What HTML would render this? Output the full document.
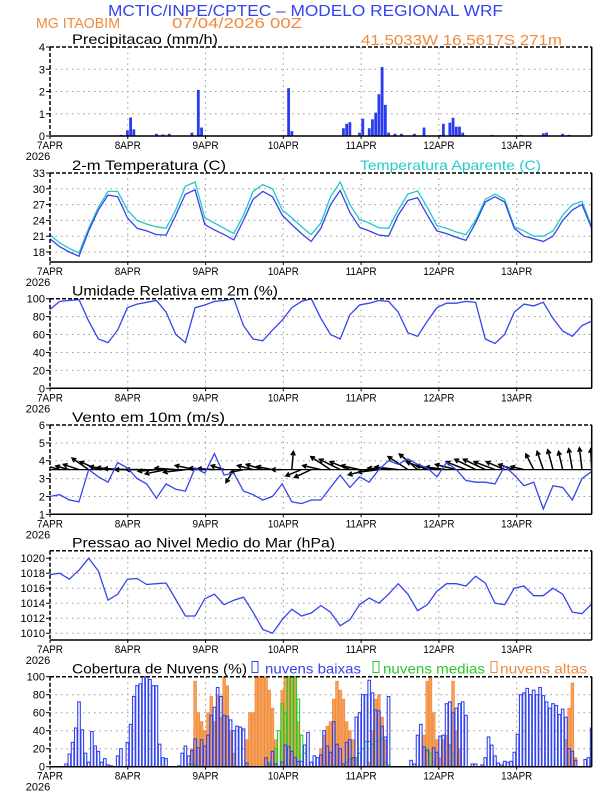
<!DOCTYPE html>
<html><head><meta charset="utf-8"><style>
html,body{margin:0;padding:0;background:#fff;}
svg{display:block;font-family:"Liberation Sans",sans-serif;}
</style></head><body>
<svg id="chart" width="612" height="792" viewBox="0 0 612 792" xmlns="http://www.w3.org/2000/svg">
<text x="108" y="16" font-size="16" fill="#3344ee" textLength="395" lengthAdjust="spacingAndGlyphs">MCTIC/INPE/CPTEC – MODELO REGIONAL WRF</text>
<text x="36" y="28" font-size="15" fill="#f08a3c" textLength="84" lengthAdjust="spacingAndGlyphs">MG ITAOBIM</text>
<text x="172" y="28" font-size="15" fill="#f08a3c" textLength="130" lengthAdjust="spacingAndGlyphs">07/04/2026 00Z</text>
<text x="361" y="45" font-size="15" fill="#f08a3c" textLength="201" lengthAdjust="spacingAndGlyphs">41.5033W 16.5617S 271m</text>
<g id="panels"></g>
</svg>
<script>
// ===== DATA =====
const dayLabels = ["7APR","8APR","9APR","10APR","11APR","12APR","13APR"];
const precipHours = [22,24,25,26,28,30,33,35,37,44,46,47,74,75,91,92,93,96,97,99,100,101,102,103,104,105,107,109,113,116,121,122,124,125,126,127,128,137,146,153,154,159,161];
const precipValues = [0.05,0.25,0.83,0.3,0.02,0.02,0.1,0.07,0.1,0.15,2.07,0.38,2.15,0.22,0.35,0.55,0.62,0.15,0.78,0.35,0.75,1.05,1.88,3.1,1.4,0.15,0.1,0.1,0.1,0.38,0.05,0.55,0.6,0.82,0.42,0.42,0.15,0.05,0.05,0.12,0.15,0.1,0.05];
const tempValues = [20.5,19,18,17.2,22,26,28.8,28.5,24.5,22.5,22,21.3,21.2,25,29,29.8,23.2,22.2,21.3,20.3,24,28,29.5,28.5,25,23.2,21.5,20,22.5,27,29.7,25.5,22.7,22,21.2,21,25,27.8,28.3,25,22,21.5,20.8,20.2,23.5,27.5,28.5,27.5,22.5,21,20.5,20,21,24,26,27,22.5];
const apparentValues = [21.3,19.7,18.7,17.8,22.5,26.5,29.5,29.5,26,24,23.3,22.8,22.5,26,30.5,31.3,24.5,23.5,22.5,21.5,25,29.5,30.8,30,26,24.5,22.8,21.3,23.5,28.5,31.3,27,24.2,23.5,22.6,22.5,26,29,29.6,26.5,23,22.5,21.8,21.3,24,28,29,28,22.8,22,21,21,22,25,27,27.6,22.8];
const rhValues = [88,97,98,99,75,55,51,65,90,94,96,98,85,60,51,90,93,97,98,100,70,55,53,65,76,90,97,100,78,60,55,82,93,95,98,97,85,62,58,75,90,95,95,97,96,55,50,60,85,94,92,96,78,64,58,70,75];
const windSpeed = [2.0,2.1,1.8,1.7,3.5,3.1,2.8,3.9,3.6,3.0,2.7,1.9,2.7,2.4,2.3,3.6,3.3,4.4,3.2,3.3,2.3,2.1,1.8,2.0,2.7,1.7,1.6,1.8,1.8,2.5,3.2,2.5,3.1,2.8,3.5,4.0,3.8,4.1,3.8,3.6,3.1,3.9,3.5,2.9,2.8,2.8,2.7,3.7,3.2,2.6,2.8,1.3,2.6,2.5,1.8,3.0,3.4];
const windU = [-2.5,-2.8,-2.6,-3,-3.2,-3.5,-3.5,-4,-4.5,-4.2,-4,-3.5,-4,-4,-4.2,-3.8,-3,-3.2,-2.5,-1.5,-2.5,-3,-3.2,-3,-2,0.3,-3,-3.2,-3.5,-3.8,-4,-3.8,-3.5,-4,-4,-4,-4.5,-3.8,-3.5,-4,-4,-4,-4,-3.8,-4,-4.2,-4,-3.5,-3,-2.5,-1.5,-1.2,-1,-0.8,-0.7,-0.5,-0.2];
const windV = [0.6,0.8,0.7,1,2.2,1.5,0.6,0.4,0.2,0,0,-0.3,-0.8,0.3,-0.5,0.8,0.3,0.2,0.8,-2.5,-0.5,0.8,1,0.6,0,3.5,-1.2,-1.5,0.8,2.5,2,1.5,0.8,-1,-0.5,0.3,0.5,2.5,3,1.5,0.8,0.5,1,1.5,2,2,1.5,1.5,1,0.6,3,3.5,3.8,3.5,4,4.2,4];
const pressureValues = [1017.8,1018,1017.2,1018.4,1020,1018.3,1014.4,1015.2,1017.2,1017.3,1016.5,1016.6,1016.7,1014.5,1012.3,1012.3,1014.6,1015.2,1013.8,1014.4,1014.8,1012.8,1010.5,1010,1011.8,1013.2,1012.3,1012.7,1013.7,1012.8,1011,1011.8,1013.8,1014.7,1014,1015.2,1016.6,1015.2,1013,1013.8,1015.6,1016.6,1016.6,1016.3,1017.6,1016.7,1014,1013.8,1016,1016.3,1015,1015,1016,1015.2,1012.8,1012.6,1013.9];
const lowCloud = [0,0,0,0,0,
3,14,27,43,72,41,15,5,39,23,17,5,9,2,1,0,
12,20,0,27,47,78,90,92,100,100,97,90,90,25,10,9,0,0,0,1,
15,23,12,18,31,21,30,23,35,57,66,88,78,57,56,52,40,45,44,42,
4,0,0,0,0,0,10,3,17,3,0,5,24,22,17,10,6,6,24,38,
5,12,10,13,40,23,16,50,25,20,3,27,30,10,55,60,80,80,96,82,
63,62,45,33,78,0,0,0,0,0,0,7,3,35,47,22,18,0,21,16,
34,35,70,72,60,65,70,72,57,0,3,3,0,2,10,33,24,12,4,2,
6,5,6,16,36,80,82,87,80,85,80,88,79,72,65,70,68,58,64,55,
20,17,7,0,0,8,10,43];
const midHours = [43,44,45,68,70,71,72,73,74,75,76,77,78,79,92,93,94,95,96,97,98,99,100,101,102,103,104,105,117,118,119,124,125];
const midValues = [3,3,3,5,20,40,70,60,100,100,100,75,35,15,5,8,10,10,15,20,28,28,25,28,30,32,5,2,20,15,5,22,15];
const highHours = [44,45,46,47,48,49,50,51,52,53,54,55,56,57,61,62,63,64,65,66,67,68,69,70,72,73,74,75,76,77,84,85,86,87,88,89,90,91,92,93,94,95,99,100,101,102,103,104,116,117,118,119,120,121,122,123,124,125,126,127,160,161,162,163];
const highValues = [20,95,60,50,40,60,78,50,80,55,100,90,40,15,30,60,60,100,100,100,100,85,65,30,85,100,100,100,100,50,20,35,45,50,75,95,85,75,50,40,30,10,5,40,75,80,55,30,35,95,100,60,30,10,30,35,25,95,40,20,30,65,93,10];

// ===== LAYOUT =====
const L = 50, R = 591.7, DAY = 77.78, HPX = (R - L) / 168;
const NS = "http://www.w3.org/2000/svg";
const root = document.getElementById('panels');
function mk(tag, attrs, parent) {
  const e = document.createElementNS(NS, tag);
  for (const k in attrs) e.setAttribute(k, attrs[k]);
  (parent || root).appendChild(e);
  return e;
}
function xH(h) { return L + h * HPX; }
function yScale(p) { return v => p.bot - (v - p.min) / (p.max - p.min) * (p.bot - p.top); }

const panels = {
  precip: {top:47, bot:136, min:0, max:4, ticks:[0,1,2,3,4]},
  temp: {top:173, bot:262, min:16.1, max:33, ticks:[18,21,24,27,30,33]},
  rh: {top:298.7, bot:388.3, min:0, max:100, ticks:[0,20,40,60,80,100]},
  wind: {top:425, bot:514.3, min:1, max:6, ticks:[1,2,3,4,5,6]},
  pres: {top:550.7, bot:640, min:1009.1, max:1021, ticks:[1010,1012,1014,1016,1018,1020]},
  cloud: {top:676.7, bot:766.7, min:0, max:100, ticks:[0,20,40,60,80,100]}
};

function drawFrame(key, title, titleW) {
  const p = panels[key];
  const g = mk('g', {});
  
  
  const y = yScale(p);
  for (let d = 1; d < 7; d++) {
    const gx = L + d * DAY;
    const gl = mk('line', {x1:gx, x2:gx, y1:p.top, y2:p.bot, stroke:'#999', 'stroke-width':1, 'stroke-dasharray':'1.5,4'}, g);
    
    
  }
  p.ticks.forEach(t => {
    const ty = y(t);
    if (ty > p.top + 1 && ty < p.bot - 1) {
      const hl = mk('line', {x1:L, x2:R, y1:ty, y2:ty, stroke:'#999', 'stroke-width':1, 'stroke-dasharray':'1.5,4'}, g);
      
      
    }
    mk('line', {x1:L-4, x2:L, y1:ty, y2:ty, stroke:'#000', 'stroke-width':1}, g);
    const tl = mk('text', {x:L-5, y:ty+4, 'font-size':11, 'text-anchor':'end', fill:'#000'}, g);
    tl.textContent = t;
    
    
  });
  dayLabels.forEach((lab, d) => {
    const gx = L + d * DAY;
    mk('line', {x1:gx, x2:gx, y1:p.bot, y2:p.bot+3, stroke:'#000'}, g);
    const t = mk('text', {x:gx, y:p.bot+13, 'font-size':11, 'text-anchor':'middle', fill:'#000', textLength: lab.length>4?31:26, lengthAdjust:'spacingAndGlyphs'}, g);
    t.textContent = lab;
    
    
  });
  const yr = mk('text', {x:L-12, y:p.bot+24, 'font-size':11, 'text-anchor':'middle', fill:'#000'}, g);
  yr.textContent = '2026';
  
  
  const tt = mk('text', {x:72, y:p.top-3, 'font-size':14, fill:'#000', textLength:titleW, lengthAdjust:'spacingAndGlyphs'}, g);
  tt.textContent = title;
  
  
  p.g = g; p.y = y;
  return g;
}
function drawBorder(key) {
  const p = panels[key];
  mk('line', {x1:L, x2:R, y1:p.top, y2:p.top, stroke:'#000', 'stroke-width':1.5, 'stroke-dasharray':'4,2'}, p.g);
  mk('line', {x1:L, x2:L, y1:p.top, y2:p.bot, stroke:'#000', 'stroke-width':1.5, 'stroke-dasharray':'4,2'}, p.g);
  mk('line', {x1:L, x2:R, y1:p.bot, y2:p.bot, stroke:'#000', 'stroke-width':1.5}, p.g);
  mk('line', {x1:R, x2:R, y1:p.top, y2:p.bot, stroke:'#000', 'stroke-width':1.5}, p.g);
}
function linePath(key, vals, step, color, name) {
  const p = panels[key];
  const pts = vals.map((v, i) => xH(i * step).toFixed(1) + ',' + p.y(v).toFixed(1)).join(' ');
  const pl = mk('polyline', {points:pts, fill:'none', stroke:color, 'stroke-width':1.3, 'clip-path':'url(#clip-' + key + ')'}, p.g);
  
  
}
const defs = mk('defs', {});
Object.keys(panels).forEach(k => {
  const p = panels[k];
  const c = mk('clipPath', {id:'clip-' + k}, defs);
  mk('rect', {x:L, y:p.top - 40, width:R - L, height:p.bot - p.top + 40}, c);
});

drawFrame('precip', 'Precipitacao (mm/h)', 146);
precipHours.forEach((h, i) => {
  const p = panels.precip;
  const yv = p.y(precipValues[i]);
  const b = mk('rect', {x:xH(h) - 1.4, y:yv, width:2.8, height:Math.max(p.bot - yv, 0.5), fill:'#2a3cf0'}, p.g);
  
  
});
drawBorder('precip');

drawFrame('temp', '2-m Temperatura (C)', 154);
const at = mk('text', {x:360, y:170, 'font-size':14, fill:'#22cccc', textLength:181, lengthAdjust:'spacingAndGlyphs'}, panels.temp.g);
at.textContent = 'Temperatura Aparente (C)';


linePath('temp', apparentValues, 3, '#22c8c8', 'apparent-temperature-line');
linePath('temp', tempValues, 3, '#3344ee', 'temperature-line');
drawBorder('temp');

drawFrame('rh', 'Umidade Relativa em 2m (%)', 206);
linePath('rh', rhValues, 3, '#3344ee', 'humidity-line');
drawBorder('rh');

drawFrame('wind', 'Vento em 10m (m/s)', 153);
(function(){
  const p = panels.wind, by = p.y(3.5), sc = 5.2;
  mk('line', {x1:L, x2:R, y1:by, y2:by, stroke:'#000', 'stroke-width':1.2}, p.g);
  windU.forEach((u, i) => {
    const v = windV[i];
    const x0 = xH(i * 3), x1 = x0 + u * sc, y1 = by - v * sc;
    const ang = Math.atan2(y1 - by, x1 - x0);
    const ah = 4.5;
    const a = mk('path', {d:'M' + x0.toFixed(1) + ',' + by.toFixed(1) + 'L' + x1.toFixed(1) + ',' + y1.toFixed(1) +
      'M' + (x1 - ah*Math.cos(ang-0.5)).toFixed(1) + ',' + (y1 - ah*Math.sin(ang-0.5)).toFixed(1) + 'L' + x1.toFixed(1) + ',' + y1.toFixed(1) +
      'L' + (x1 - ah*Math.cos(ang+0.5)).toFixed(1) + ',' + (y1 - ah*Math.sin(ang+0.5)).toFixed(1),
      fill:'none', stroke:'#000', 'stroke-width':1.5, 'clip-path':'url(#clip-wind)'}, p.g);
    
    
  });
})();
linePath('wind', windSpeed, 3, '#3344ee', 'wind-speed-line');
drawBorder('wind');

drawFrame('pres', 'Pressao ao Nivel Medio do Mar (hPa)', 263);
linePath('pres', pressureValues, 3, '#3344ee', 'pressure-line');
drawBorder('pres');

drawFrame('cloud', 'Cobertura de Nuvens (%)', 175);
(function(){
  const p = panels.cloud, g = p.g;
  highHours.forEach((h, i) => {
    const yv = p.y(highValues[i]);
    const b = mk('rect', {x:xH(h) - 1.3, y:yv, width:2.6, height:p.bot - yv, fill:'#f5a35c', stroke:'#f08a3c', 'stroke-width':0.8}, g);
    
    
  });
  midHours.forEach((h, i) => {
    const yv = p.y(midValues[i]);
    const b = mk('rect', {x:xH(h) - 1.3, y:yv, width:2.6, height:p.bot - yv, fill:'none', stroke:'#22cc22', 'stroke-width':1.1}, g);
    
    
  });
  lowCloud.forEach((v, h) => {
    if (v <= 0) return;
    const yv = p.y(v);
    const b = mk('rect', {x:xH(h) - 1.3, y:yv, width:2.6, height:p.bot - yv, fill:'none', stroke:'#3344ee', 'stroke-width':1.1, 'clip-path':'url(#clip-cloud)'}, g);
    
    
  });
  const leg = [[252, 265, 96, '#3344ee', 'nuvens baixas', 'legend-low-clouds'],
               [373, 383, 102, '#22cc22', 'nuvens medias', 'legend-mid-clouds'],
               [491, 500, 87, '#f08a3c', 'nuvens altas', 'legend-high-clouds']];
  leg.forEach(l => {
    const lg = mk('g', {}, g);
    
    
    mk('rect', {x:l[0], y:661.5, width:6, height:11, fill:'none', stroke:l[3], 'stroke-width':1}, lg);
    const t = mk('text', {x:l[1], y:673.7, 'font-size':14, fill:l[3], textLength:l[2], lengthAdjust:'spacingAndGlyphs'}, lg);
    t.textContent = l[4];
  });
})();
drawBorder('cloud');
</script>
</body></html>
